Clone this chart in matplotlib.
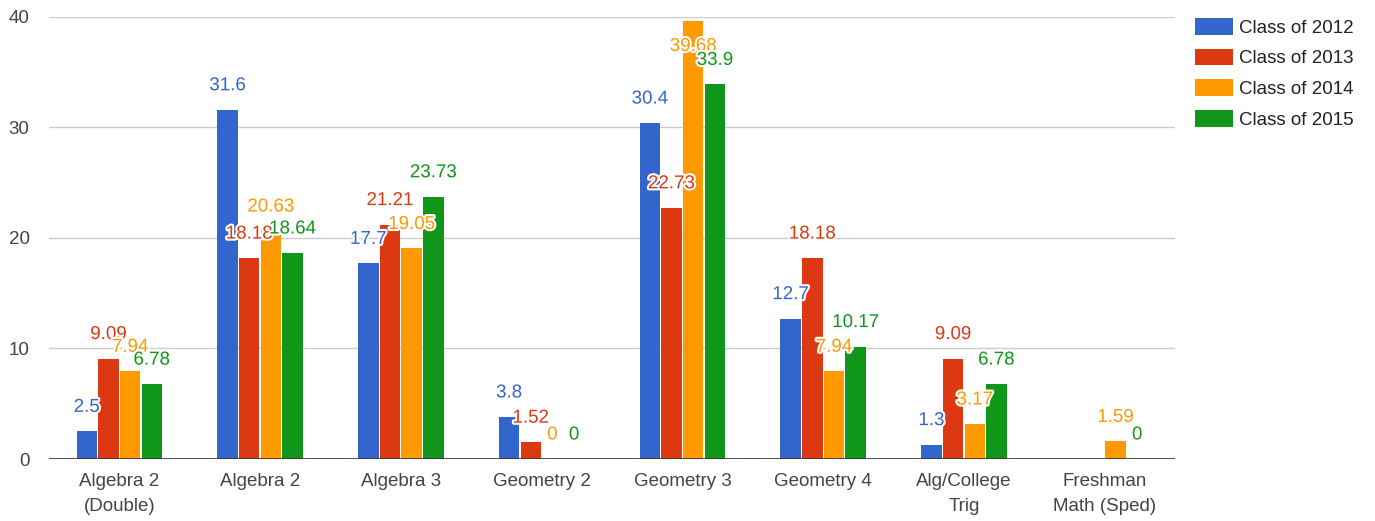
import numpy as np
import matplotlib
matplotlib.use('Agg')
import matplotlib.pyplot as plt
import matplotlib.patheffects as pe

plt.rcParams['font.family'] = ['Liberation Sans', 'DejaVu Sans']

# chart data
courses = ['Algebra 2\n(Double)', 'Algebra 2', 'Algebra 3', 'Geometry 2',
           'Geometry 3', 'Geometry 4', 'Alg/College\nTrig', 'Freshman\nMath (Sped)']
series = ['Class of 2012', 'Class of 2013', 'Class of 2014', 'Class of 2015']
class_2012 = [2.5, 31.6, 17.7, 3.8, 30.4, 12.7, 1.3, None]
class_2013 = [9.09, 18.18, 21.21, 1.52, 22.73, 18.18, 9.09, None]
class_2014 = [7.94, 20.63, 19.05, 0, 39.68, 7.94, 3.17, 1.59]
class_2015 = [6.78, 18.64, 23.73, 0, 33.9, 10.17, 6.78, 0]
colors = ['#3366CC', '#DC3912', '#FF9900', '#109618']

fig = plt.figure(figsize=(13.75, 5.21), dpi=100)
ax = fig.add_axes([0.0356, 0.119, 0.819, 0.8484])

ymax = 40
x = np.arange(len(courses))
step = 0.154
width = 0.145
fs = 13.5
halo = [pe.withStroke(linewidth=3, foreground='white')]

for i, (vals, name, col) in enumerate(zip([class_2012, class_2013, class_2014, class_2015], series, colors)):
    xs = x + (i - 1.5) * step
    hs = [np.nan if v is None else v for v in vals]
    ax.bar(xs, hs, width=width, color=col, label=name, zorder=3)
    for xi, v in zip(xs, vals):
        if v is None:
            continue
        # label goes inside the bar when there's no room above it
        dy = 24 if v < ymax - 3 else -26
        ax.annotate(f'{v:g}', (xi, v), xytext=(0, dy), textcoords='offset pixels',
                    ha='center', va='center', fontsize=fs, color=col,
                    path_effects=halo, zorder=4)

ax.set_xlim(-0.5, len(courses) - 0.5)
ax.set_ylim(0, ymax)
ax.set_yticks([0, 10, 20, 30, 40])
ax.set_xticks(x)
ax.set_xticklabels(courses)
for t in ax.get_xticklabels():
    t.set_linespacing(1.6)
ax.yaxis.grid(True, color='#cccccc', linewidth=1, zorder=0)
ax.axhline(0, color='#333333', linewidth=1.2, zorder=5)
for s in ax.spines.values():
    s.set_visible(False)
ax.tick_params(axis='both', length=0, labelsize=fs, colors='#444444')
ax.tick_params(axis='y', pad=14)
ax.tick_params(axis='x', pad=10)

ax.legend(loc='upper left', bbox_to_anchor=(1.018, 0.998), frameon=False, fontsize=fs,
          handlelength=2.0, handleheight=1.0, handletextpad=0.35, labelspacing=0.64,
          labelcolor='#222222', borderaxespad=0, borderpad=0)

fig.savefig('out.png', dpi=100)
